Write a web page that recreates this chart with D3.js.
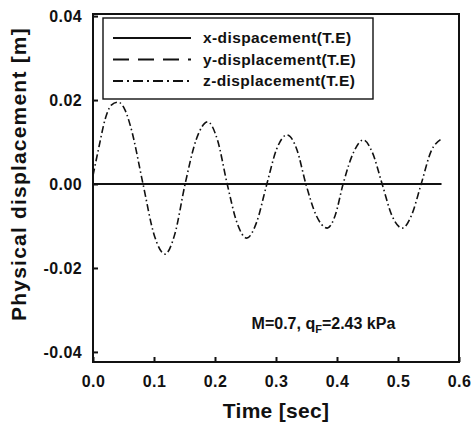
<!DOCTYPE html>
<meta charset="utf-8">
<style>
body { margin: 0; background: #fff; }
text { font-family: "Liberation Sans", Arial, sans-serif; font-weight: bold; fill: #111; }
.axis path, .axis line { stroke: #111; stroke-width: 2; }
.curve { fill: none; stroke: #111; }
</style>
<body></body>
<script src="https://d3js.org/d3.v7.min.js"></script>
<script>

// time samples [sec]
var time = [0.000, 0.010, 0.020, 0.030, 0.041, 0.052, 0.062, 0.082, 0.100, 0.118,
  0.134, 0.151, 0.169, 0.188, 0.204, 0.220, 0.236, 0.252, 0.268, 0.285,
  0.301, 0.318, 0.334, 0.349, 0.366, 0.384, 0.397, 0.410, 0.427, 0.443,
  0.458, 0.474, 0.490, 0.507, 0.522, 0.538, 0.554, 0.571];

// z-displacement [m]
var zDisp = [0.002, 0.009, 0.0155, 0.0188, 0.0195, 0.0178, 0.0135, 0.000, -0.0120, -0.0167,
  -0.0120, 0.000, 0.0105, 0.0148, 0.0105, 0.000, -0.0092, -0.0129, -0.0092, 0.000,
  0.0083, 0.0117, 0.0083, 0.000, -0.0075, -0.0105, -0.0075, 0.000, 0.0075, 0.0105,
  0.0075, 0.000, -0.0075, -0.0105, -0.0075, 0.000, 0.0077, 0.0107];

// x and y displacement stay on zero
var xDisp = time.map(function() { return 0; });
var yDisp = time.map(function() { return 0; });

var seriesNames = ["x-dispacement(T.E)", "y-displacement(T.E)", "z-displacement(T.E)"];
var xTicks = [0.0, 0.1, 0.2, 0.3, 0.4, 0.5, 0.6];
var yTicks = [0.04, 0.02, 0.00, -0.02, -0.04];

var W = 473, H = 431;
var margin = {top: 14, right: 14, bottom: 69, left: 93};
var width = W - margin.left - margin.right,
    height = H - margin.top - margin.bottom;

var svg = d3.select("body").append("svg")
    .attr("width", W)
    .attr("height", H);

var g = svg.append("g")
    .attr("transform", "translate(" + margin.left + "," + margin.top + ")");

var xScale = d3.scaleLinear().domain([0, 0.6]).range([0, width]);
var yScale = d3.scaleLinear().domain([-0.0424, 0.0405]).range([height, 0]);

// plain hyphen for negatives, like the original
function fmt(p) {
  var f = d3.format("." + p + "f");
  return function(d) { return f(d).replace("\u2212", "-"); };
}

// frame
g.append("rect")
    .attr("width", width)
    .attr("height", height)
    .attr("fill", "none")
    .attr("stroke", "#111")
    .attr("stroke-width", 2);

// axes with inward ticks
var xAxis = d3.axisBottom(xScale)
    .tickValues(xTicks)
    .tickFormat(fmt(1))
    .tickSizeInner(-5)
    .tickSizeOuter(0)
    .tickPadding(14);

var yAxis = d3.axisLeft(yScale)
    .tickValues(yTicks)
    .tickFormat(fmt(2))
    .tickSizeInner(-5)
    .tickSizeOuter(0)
    .tickPadding(11);

var gx = g.append("g").attr("class", "axis")
    .attr("transform", "translate(0," + height + ")")
    .call(xAxis);
gx.selectAll("text").attr("font-size", 16).attr("letter-spacing", 0.4);

var gy = g.append("g").attr("class", "axis").call(yAxis);
gy.selectAll("text").attr("font-size", 16).attr("letter-spacing", 0.4);

g.selectAll(".axis .domain").remove();
g.selectAll(".axis text").attr("font-family", null);

// axis titles
g.append("text")
    .attr("x", width / 2)
    .attr("y", height + 56)
    .attr("text-anchor", "middle")
    .attr("font-size", 21)
    .attr("letter-spacing", 0.3)
    .text("Time [sec]");

svg.append("text")
    .attr("transform", "translate(26," + 174 + ") rotate(-90)")
    .attr("text-anchor", "middle")
    .attr("font-size", 21)
    .attr("letter-spacing", 1.2)
    .text("Physical displacement [m]");

// lines
var dashes = [null, "16,9", "10,4,2,4"];
var curveDash = [null, "8,4", "7,3,1.5,3"];

function lineFor(values) {
  return d3.line()
    .x(function(d, i) { return xScale(time[i]); })
    .y(function(d) { return yScale(d); })
    .curve(d3.curveMonotoneX)(values);
}

g.append("path").attr("class", "curve")
    .attr("d", lineFor(zDisp))
    .attr("stroke-width", 1.6)
    .attr("stroke-dasharray", curveDash[2]);

g.append("path").attr("class", "curve")
    .attr("d", lineFor(yDisp))
    .attr("stroke-width", 2)
    .attr("stroke-dasharray", curveDash[1]);

g.append("path").attr("class", "curve")
    .attr("d", lineFor(xDisp))
    .attr("stroke-width", 2.2);

// legend
var legend = g.append("g").attr("transform", "translate(10,4)");
legend.append("rect")
    .attr("width", 270)
    .attr("height", 81)
    .attr("fill", "#fff")
    .attr("stroke", "#111")
    .attr("stroke-width", 1.4);

seriesNames.forEach(function(name, i) {
  var yy = 20 + i * 21.5;
  legend.append("line")
      .attr("x1", 10).attr("x2", 88)
      .attr("y1", yy).attr("y2", yy)
      .attr("stroke", "#111")
      .attr("stroke-width", 2)
      .attr("stroke-dasharray", dashes[i]);
  legend.append("text")
      .attr("x", 100)
      .attr("y", yy + 5)
      .attr("font-size", 15.5)
      .attr("letter-spacing", 0.4)
      .text(name);
});

// annotation
var note = g.append("text")
    .attr("x", xScale(0.260))
    .attr("y", yScale(-0.0345))
    .attr("font-size", 16);
note.append("tspan").text("M=0.7, q");
note.append("tspan").attr("font-size", 11).attr("dy", 4).text("F");
note.append("tspan").attr("dy", -4).text("=2.43 kPa");

</script>
